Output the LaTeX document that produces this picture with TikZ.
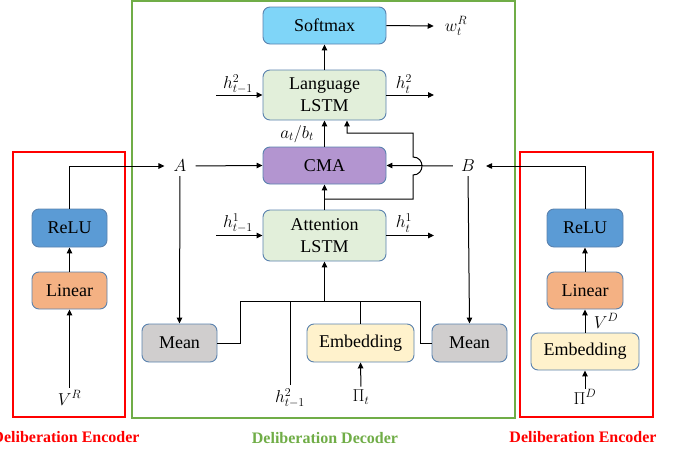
\documentclass[tikz,border=0pt]{standalone}
\usepackage{fontspec}
\setmainfont{Liberation Serif}
\usetikzlibrary{arrows.meta}
\definecolor{bordercol}{HTML}{5A82AE}
\definecolor{softcol}{HTML}{7FD5F8}
\definecolor{lstmcol}{HTML}{E2EFDA}
\definecolor{cmacol}{HTML}{B395D0}
\definecolor{meancol}{HTML}{D0CECE}
\definecolor{embcol}{HTML}{FFF2CC}
\definecolor{relucol}{HTML}{5B9BD5}
\definecolor{lincol}{HTML}{F4B183}
\definecolor{framegreen}{HTML}{70AD47}
\definecolor{framered}{HTML}{FF0000}
\begin{document}
\begin{tikzpicture}[x=1pt,y=-1pt,
  box/.style={draw=bordercol, line width=0.9pt, rounded corners=7pt,
    minimum width=123pt, minimum height=37pt, inner sep=0pt, align=center,
    font=\fontsize{18}{22}\selectfont},
  smallbox/.style={box, minimum width=75pt, minimum height=38pt},
  lbl/.style={inner sep=1pt, font=\fontsize{16.5}{18}\selectfont},
  arr/.style={-{Triangle[length=6pt,width=5.5pt]}, line width=1pt},
  ln/.style={line width=1pt},
  frameline/.style={line width=1.5pt},
  captext/.style={font=\fontsize{16}{18}\selectfont\bfseries}]
\useasboundingbox (0,0) rectangle (681,453);

% frames
\draw[frameline, draw=framegreen] (132,1) rectangle (515,418);
\draw[frameline, draw=framered] (13,152) rectangle (125,417);
\draw[frameline, draw=framered] (520,152) rectangle (653,417);
\node[captext, text=framered] (capL) at (66,437) {Deliberation Encoder};
\node[captext, text=framegreen] (capM) at (325,438) {Deliberation Decoder};
\node[captext, text=framered] (capR) at (583,437) {Deliberation Encoder};

% decoder boxes
\node[box, fill=softcol] (soft) at (324.5,25.5) {Softmax};
\node[box, fill=lstmcol, minimum height=50pt] (lang) at (324.5,95) {Language\\LSTM};
\node[box, fill=cmacol] (cma) at (324.5,165.5) {CMA};
\node[box, fill=lstmcol, minimum height=51pt] (att) at (324.5,235.5) {Attention\\LSTM};
\node[smallbox, fill=meancol] (meanL) at (179.5,343) {Mean};
\node[box, fill=embcol, minimum width=107pt, minimum height=38pt] (embC) at (360.5,343) {Embedding};
\node[smallbox, fill=meancol] (meanR) at (469.5,343) {Mean};

% encoder boxes
\node[smallbox, fill=relucol] (reluL) at (69.5,228) {ReLU};
\node[smallbox, fill=lincol, minimum height=37pt] (linL) at (69.5,290.5) {Linear};
\node[smallbox, fill=relucol, minimum width=76pt] (reluR) at (585,228) {ReLU};
\node[smallbox, fill=lincol, minimum width=76pt, minimum height=37pt] (linR) at (585,290.5) {Linear};
\node[box, fill=embcol, minimum width=108pt, minimum height=37pt] (embR) at (585,351.5) {Embedding};

% labels
\node[lbl] (A) at (180,166) {$A$};
\node[lbl] (B) at (468,166) {$B$};
\node[lbl] (VR) at (69.5,398) {$V^R$};
\node[lbl] (VD) at (606,321) {$V^D$};
\node[lbl] (PiD) at (585,397) {$\Pi^D$};
\node[lbl] (Pit) at (361,397) {$\Pi_t$};
\node[lbl] (hb) at (290,398) {$h^2_{t-1}$};
\node[lbl] (wR) at (456,26) {$w^R_t$};
\node[lbl] (hl2) at (238,84) {$h^2_{t-1}$};
\node[lbl] (hr2) at (404,84) {$h^2_t$};
\node[lbl] (hl1) at (238,223) {$h^1_{t-1}$};
\node[lbl] (hr1) at (404,223) {$h^1_t$};
\node[lbl] (ab) at (297,134) {$a_t/b_t$};

% free ends
\coordinate (in2) at (216,95);
\coordinate (out2) at (434,95);
\coordinate (in1) at (216,235.5);
\coordinate (out1) at (434,235.5);
\coordinate (br) at (324.5,199);
\coordinate (bus) at (324.5,301);

% decoder connectors
\draw[arr] (soft.east) -- ([xshift=-10pt]wR.west);
\draw[arr] (lang) -- (soft);
\draw[arr] (cma) -- (lang);
\draw[arr] (att) -- (cma);
\draw[arr] (in2) -- (lang.west);
\draw[arr] (lang.east) -- (out2);
\draw[arr] (in1) -- (att.west);
\draw[arr] (att.east) -- (out1);
\draw[arr] (br) -- (413,199) -- (413,175) .. controls (425,175) and (425,157) .. (413,157)
   -- (413,133) -| ([xshift=22.5pt]lang.south);
\draw[arr, shorten <=8pt] (A.east) -- (cma.west);
\draw[arr, shorten <=7pt] (B.west) -- (cma.east);
\draw[arr, shorten <=3pt] (A.south) -- (meanL.north);
\draw[arr, shorten <=3pt] (B.south) -- (meanR.north);
\draw[arr] (bus) -- (att.south);
\draw[ln] (meanL.east) -| (240,301) -- (420,301) |- (meanR.west);
\draw[ln, shorten <=2pt] (hb.north) -- (hb.north |- bus);
\draw[ln] (embC.north) -- (embC.north |- bus);
\draw[arr, shorten <=2pt] (Pit.north) -- (embC.south);

% encoder connectors
\draw[arr, shorten >=8pt] (reluL.north) |- (A.west);
\draw[arr, shorten >=10pt] (reluR.north) |- (B.east);
\draw[arr] (linL) -- (reluL);
\draw[arr, shorten <=2pt] (VR.north) -- (linL.south);
\draw[arr] (linR) -- (reluR);
\draw[arr] (embR) -- (linR);
\draw[arr] (PiD.north) -- (embR.south);
\end{tikzpicture}
\end{document}
